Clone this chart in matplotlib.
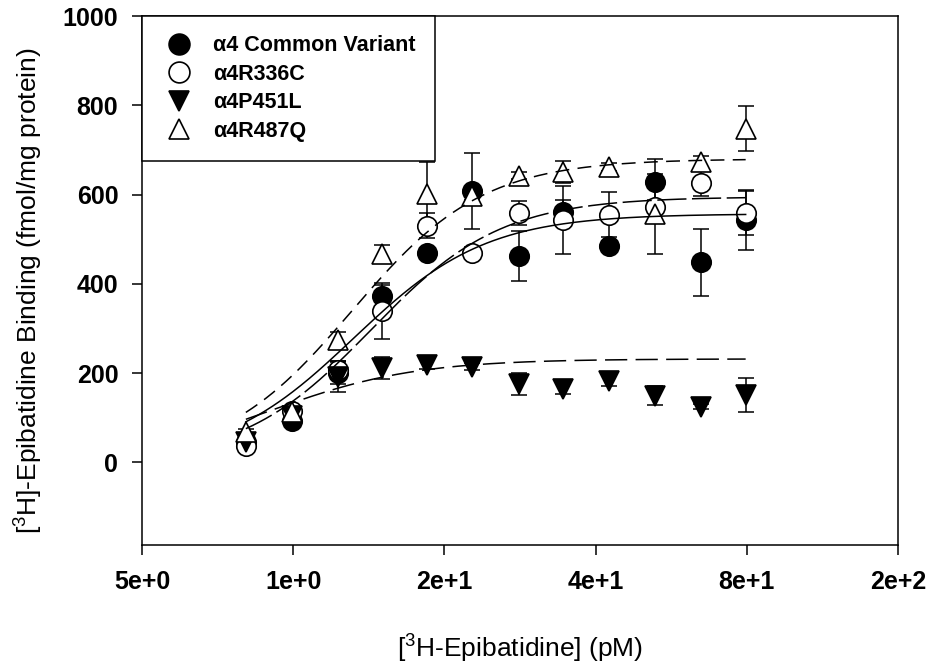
import matplotlib.pyplot as plt
import numpy as np
from matplotlib.lines import Line2D

plt.rcParams["font.family"] = ["Liberation Sans", "DejaVu Sans"]
plt.rcParams["mathtext.fontset"] = "custom"
plt.rcParams["mathtext.rm"] = "Liberation Sans"
plt.rcParams["mathtext.it"] = "Liberation Sans:italic"
plt.rcParams["mathtext.bf"] = "Liberation Sans:bold"
plt.rcParams["lines.scale_dashes"] = False

# [3H]-epibatidine concentration (pM)
CONCENTRATION = [8.05, 9.93, 12.3, 15.0, 18.5, 22.7, 28.1, 34.5, 42.5, 52.5, 64.8, 79.6]

COMMON = [45, 92, 201, 373, 470, 609, 463, 562, 485, 629, 448, 543]
COMMON_ERR = [5, 8, 25, 24, 10, 85, 56, 26, 10, 50, 76, 67]

R336C = [38, 115, 208, 340, 530, 470, 558, 543, 555, 573, 627, 559]
R336C_ERR = [8, 10, 20, 63, 28, 12, 27, 76, 50, 15, 30, 50]

P451L = [45, 105, 192, 212, 219, 215, 176, 165, 183, 150, 125, 152]
P451L_ERR = [5, 10, 35, 25, 10, 8, 25, 12, 12, 22, 5, 38]

R487Q = [68, 112, 275, 467, 602, 597, 642, 651, 662, 557, 672, 748]
R487Q_ERR = [8, 8, 17, 20, 70, 10, 8, 25, 8, 90, 15, 50]

# fitted curve parameters (Bmax, K, Hill slope)
FIT_COMMON = (557, 13.2, 3.3)
FIT_R336C = (595, 14.3, 3.35)
FIT_P451L = (232, 9.0, 3.0)
FIT_R487Q = (680, 13.1, 3.33)

LABELS = ["α4 Common Variant", "α4R336C", "α4P451L", "α4R487Q"]

X_TICKS = [5, 10, 20, 40, 80, 160]
X_TICK_LABELS = ["5e+0", "1e+0", "2e+1", "4e+1", "8e+1", "2e+2"]
Y_TICKS = [0, 200, 400, 600, 800, 1000]


def hill(x, bmax, k, n):
    return bmax * x ** n / (k ** n + x ** n)


fig = plt.figure(figsize=(9.31, 6.68), dpi=100)
ax = fig.add_axes([0.1525, 0.184, 0.812, 0.792])

series = [
    (COMMON, COMMON_ERR, FIT_COMMON, "o", "black", None),
    (R336C, R336C_ERR, FIT_R336C, "o", "white", (21, 4)),
    (P451L, P451L_ERR, FIT_P451L, "v", "black", (16, 6)),
    (R487Q, R487Q_ERR, FIT_R487Q, "^", "white", (10, 6)),
]

x_fit = np.geomspace(CONCENTRATION[0], CONCENTRATION[-1], 300)
handles = []
for values, errors, params, marker, face, dashes in series:
    ax.errorbar(
        CONCENTRATION, values, yerr=errors,
        fmt="none", ecolor="black", elinewidth=1.1,
        capsize=6, capthick=1.1, zorder=2,
    )
    ax.plot(
        CONCENTRATION, values, linestyle="none", marker=marker,
        markersize=14, markerfacecolor=face, markeredgecolor="black",
        markeredgewidth=1.2, zorder=3,
    )
    line, = ax.plot(x_fit, hill(x_fit, *params), color="black", linewidth=1.1, zorder=4)
    if dashes is not None:
        line.set_dashes(dashes)
    handles.append(
        Line2D([], [], linestyle="none", marker=marker, markersize=15,
               markerfacecolor=face, markeredgecolor="black", markeredgewidth=1.2)
    )

ax.set_xscale("log", base=2)
ax.set_xlim(5, 160)
ax.set_ylim(-185, 1000)
ax.set_xticks(X_TICKS)
ax.set_xticklabels(X_TICK_LABELS)
ax.minorticks_off()
ax.set_yticks(Y_TICKS)

ax.tick_params(direction="out", length=7, width=1.1, labelsize=18)
ax.tick_params(axis="x", pad=11)
ax.tick_params(axis="y", pad=10)
for label in ax.get_xticklabels() + ax.get_yticklabels():
    label.set_fontweight("bold")
for spine in ax.spines.values():
    spine.set_linewidth(1.1)

ax.set_xlabel(r"[$^{\mathrm{3}}$H-Epibatidine] (pM)", fontsize=19, labelpad=28)
ax.set_ylabel(r"[$^{\mathrm{3}}$H]-Epibatidine Binding (fmol/mg protein)", fontsize=19, labelpad=12)
ax.yaxis.set_label_coords(-0.128, 0.48)

legend = ax.legend(
    handles, LABELS, loc="upper left", bbox_to_anchor=(0, 1), borderaxespad=0,
    fancybox=False, edgecolor="black", framealpha=1, borderpad=0.9,
    handletextpad=0.8, handlelength=1.6, labelspacing=0.35,
    prop={"weight": "bold", "size": 15.5},
)
legend.get_frame().set_linewidth(1.1)

fig.savefig("out.png", dpi=100)
